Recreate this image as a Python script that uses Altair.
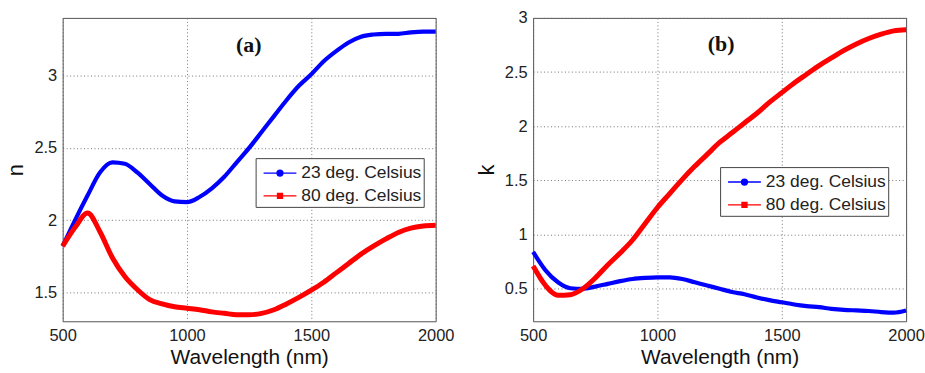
import altair as alt
import pandas as pd

# ---------------- data ----------------
wavelength = [500, 550, 600, 650, 700, 750, 800, 850, 900, 950, 1000, 1050, 1100,
              1150, 1200, 1250, 1300, 1350, 1400, 1450, 1500, 1550, 1600, 1650,
              1700, 1750, 1800, 1850, 1900, 1950, 2000]

n_23 = [1.82, 2.00, 2.17, 2.33, 2.40, 2.39, 2.33, 2.25, 2.17, 2.13, 2.125, 2.16, 2.22,
        2.30, 2.40, 2.50, 2.61, 2.72, 2.83, 2.93, 3.01, 3.10, 3.17, 3.23,
        3.27, 3.285, 3.29, 3.29, 3.30, 3.305, 3.305]
n_80 = [1.82, 1.95, 2.05, 1.92, 1.74, 1.61, 1.52, 1.45, 1.42, 1.40, 1.39, 1.38, 1.365,
        1.355, 1.345, 1.345, 1.355, 1.38, 1.42, 1.465, 1.515, 1.57, 1.635, 1.70,
        1.765, 1.82, 1.87, 1.915, 1.945, 1.96, 1.965]
k_23 = [0.84, 0.67, 0.56, 0.505, 0.50, 0.52, 0.545, 0.57, 0.59, 0.60, 0.605, 0.605, 0.59,
        0.56, 0.53, 0.50, 0.47, 0.45, 0.42, 0.395, 0.375, 0.355, 0.34, 0.33,
        0.315, 0.305, 0.30, 0.295, 0.285, 0.28, 0.30]
k_80 = [0.71, 0.53, 0.44, 0.445, 0.50, 0.60, 0.72, 0.83, 0.95, 1.10, 1.25, 1.38, 1.51,
        1.63, 1.74, 1.85, 1.94, 2.03, 2.12, 2.22, 2.31, 2.40, 2.48, 2.56,
        2.63, 2.70, 2.76, 2.81, 2.85, 2.88, 2.89]

series_names = ["23 deg. Celsius", "80 deg. Celsius"]
series_colors = ["#0000ff", "#ff0000"]
x_ticks = [500, 1000, 1500, 2000]
n_ticks = [1.5, 2, 2.5, 3]
k_ticks = [0.5, 1, 1.5, 2, 2.5, 3]

# legend symbols: short line with a dot / a square marker
sym_circle = "M-1.375,0H1.375M0.25,0A0.25,0.25,0,1,1,-0.25,0A0.25,0.25,0,1,1,0.25,0Z"
sym_square = "M-1.375,0H1.375M-0.21,-0.21H0.21V0.21H-0.21Z"


def long_table(v23, v80):
    rows = []
    for w, a, b in zip(wavelength, v23, v80):
        rows.append({"wl": w, "val": a, "series": series_names[0]})
        rows.append({"wl": w, "val": b, "series": series_names[1]})
    return pd.DataFrame(rows)


def panel(df, ytitle, ydomain, yticks, tag, tag_x, tag_y, leg_x, leg_y):
    x = alt.X("wl:Q", scale=alt.Scale(domain=[500, 2000], nice=False),
              axis=alt.Axis(values=x_ticks, format="d", title="Wavelength (nm)", labelFlush=False))
    y = alt.Y("val:Q", scale=alt.Scale(domain=ydomain, nice=False, zero=False),
              axis=alt.Axis(values=yticks, format="~g", title=ytitle, labelFlush=False))
    leg = alt.Legend(
        title=None, orient="none", legendX=leg_x, legendY=leg_y,
        fillColor="white", strokeColor="#444", padding=2, rowPadding=1,
        labelFont="Liberation Sans", labelFontSize=17.5, labelColor="#222",
        labelLimit=300, labelOffset=8.5, symbolOffset=9.5,
        symbolSize=576, symbolStrokeWidth=1.3, symbolOpacity=1,
    )
    color = alt.Color("series:N", scale=alt.Scale(domain=series_names, range=series_colors), legend=leg)
    base = alt.Chart(df)
    thin = base.mark_line(strokeWidth=1, interpolate="monotone").encode(x=x, y=y, color=color)
    thick = base.mark_line(interpolate="monotone").encode(
        x=x, y=y, color=color,
        strokeWidth=alt.StrokeWidth("series:N", scale=alt.Scale(domain=series_names, range=[4.2, 5]),
                                    legend=None),
    )
    legend_layer = base.mark_point(filled=True, opacity=0).encode(
        x=x, y=y, color=color,
        shape=alt.Shape("series:N", scale=alt.Scale(domain=series_names, range=[sym_circle, sym_square]),
                        legend=leg),
    )
    label = alt.Chart(pd.DataFrame({"t": [tag]})).mark_text(
        font="Liberation Serif", fontWeight="bold", fontSize=22, color="#111"
    ).encode(text="t:N", x=alt.value(tag_x), y=alt.value(tag_y))
    return alt.layer(thin, thick, legend_layer, label).properties(width=375, height=305)


left = panel(long_table(n_23, n_80), "n", [1.3, 3.4], n_ticks, "(a)", 187, 27, 194, 141)
right = panel(long_table(k_23, k_80), "k", [0.2, 3.0], k_ticks, "(b)", 189, 26, 188, 150)

chart = alt.hconcat(left, right, spacing=20).resolve_legend(
    color="independent", shape="independent"
).resolve_scale(color="independent", shape="independent").properties(
    padding={"left": 4, "top": 8, "right": 0, "bottom": 0}
).configure_view(
    stroke="#555", strokeWidth=1
).configure_axis(
    labelFont="Liberation Sans", labelFontSize=16.5, labelColor="#222",
    titleFont="Liberation Sans", titleFontSize=22, titleFontWeight="normal", titleColor="#111",
    grid=True, gridDash=[1, 2.5], gridColor="#666", gridOpacity=0.9,
    domain=False, ticks=False, labelPadding=6,
).configure_axisY(titlePadding=6).configure_axisX(titlePadding=3, titleFontSize=21, labelPadding=6)

chart.save("out.html", embed_options={"renderer": "svg", "actions": False})
